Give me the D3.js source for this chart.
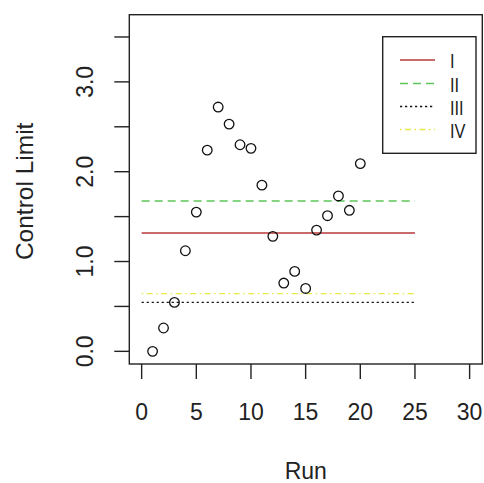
<!DOCTYPE html>
<html><head><meta charset="utf-8">
<script src="https://cdn.jsdelivr.net/npm/d3@7"></script>
<style>body{margin:0;background:#fff}svg{display:block}text{font-family:"Liberation Sans",Arial,sans-serif;fill:#222}</style>
</head><body><div id="chart"></div>
<script>
const runs = [1,2,3,4,5,6,7,8,9,10,11,12,13,14,15,16,17,18,19,20];
const values = [0.0,0.26,0.545,1.12,1.55,2.24,2.72,2.53,2.30,2.26,1.85,1.28,0.76,0.89,0.70,1.35,1.51,1.73,1.57,2.09];
const limitNames = ["I","II","III","IV"];
const limitValues = [1.317,1.674,0.545,0.642];
const limitColors = ["#b8383a","#5cc65a","#111111","#e8e84a"];
const limitDash = [null,"8,5","2.2,2.8","1.5,3.5,6,3.5"];
const xTicks = [0,5,10,15,20,25,30];
const yTicks = [0,0.5,1,1.5,2,2.5,3,3.5];
const yLabels = [0,1,2,3];

const W=484,H=483;
const svg=d3.select("#chart").append("svg").attr("width",W).attr("height",H);
const L=129.3,R=482.3,T=14.7,B=364;
const x=d3.scaleLinear().domain([-1.13,31.16]).range([L,R]);
const y=d3.scaleLinear().domain([-0.141,3.748]).range([B,T]);
const ink="#222";

// box
svg.append("rect").attr("x",L).attr("y",T).attr("width",R-L).attr("height",B-T)
  .attr("fill","none").attr("stroke",ink).attr("stroke-width",1.4);

// x axis
const xa=svg.append("g");
xa.selectAll("line").data(xTicks).join("line")
  .attr("x1",d=>x(d)).attr("x2",d=>x(d)).attr("y1",B).attr("y2",B+15)
  .attr("stroke",ink).attr("stroke-width",1.4);
xa.selectAll("text").data(xTicks).join("text")
  .attr("x",d=>x(d)).attr("y",420).attr("text-anchor","middle")
  .attr("font-size",23).text(d=>d);
svg.append("text").attr("x",(L+R)/2).attr("y",479).attr("text-anchor","middle")
  .attr("font-size",23).text("Run");

// y axis
const ya=svg.append("g");
ya.selectAll("line").data(yTicks).join("line")
  .attr("x1",L-15).attr("x2",L).attr("y1",d=>y(d)).attr("y2",d=>y(d))
  .attr("stroke",ink).attr("stroke-width",1.4);
ya.selectAll("text").data(yLabels).join("text")
  .attr("transform",d=>`translate(93,${y(d)}) rotate(-90)`)
  .attr("text-anchor","middle").attr("font-size",23).text(d=>d.toFixed(1));
svg.append("text").attr("transform",`translate(33,${(T+B)/2+2}) rotate(-90)`)
  .attr("text-anchor","middle").attr("font-size",24.5).text("Control Limit");

// limit lines
svg.append("g").selectAll("line").data(limitValues).join("line")
  .attr("x1",x(0)).attr("x2",x(25)).attr("y1",d=>y(d)).attr("y2",d=>y(d))
  .attr("stroke",(d,i)=>limitColors[i]).attr("stroke-width",1.4)
  .attr("stroke-dasharray",(d,i)=>limitDash[i]);

// points
svg.append("g").selectAll("circle").data(values).join("circle")
  .attr("cx",(d,i)=>x(runs[i])).attr("cy",d=>y(d)).attr("r",4.8)
  .attr("fill","none").attr("stroke","#111").attr("stroke-width",1.3);

// legend
const lg=svg.append("g");
lg.append("rect").attr("x",382.7).attr("y",36.7).attr("width",93.3).attr("height",116.6)
  .attr("fill","#fff").attr("stroke",ink).attr("stroke-width",1.4);
const rowY=[60,83.5,106.5,129.5];
limitNames.forEach((n,i)=>{
  lg.append("line").attr("x1",400).attr("x2",435).attr("y1",rowY[i]).attr("y2",rowY[i])
    .attr("stroke",limitColors[i]).attr("stroke-width",1.4).attr("stroke-dasharray",limitDash[i]);
  lg.append("text").attr("transform",`translate(450,${rowY[i]+8}) scale(0.78,1)`)
    .attr("font-size",21).text(n);
});
</script></body></html>
